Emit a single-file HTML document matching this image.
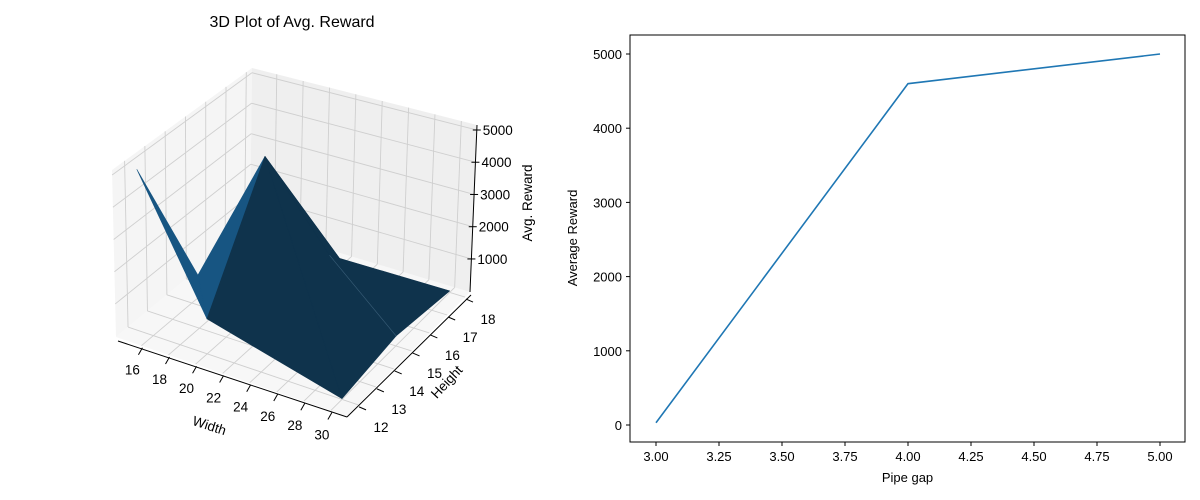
<!DOCTYPE html>
<html><head><meta charset="utf-8"><style>
body{margin:0;background:#fff;}
svg{display:block;font-family:"Liberation Sans","DejaVu Sans",sans-serif;}
</style></head><body>
<svg id="fig" width="1200" height="500" viewBox="0 0 1200 500" xmlns="http://www.w3.org/2000/svg">
<g id="g3d"></g>
<g id="g2d"></g>
</svg>
<script>
// ---------- 3D surface data ----------
const surfW = [15, 20, 15, 20, 20.7, 30, 30, 30];
const surfH = [12, 12, 15, 15, 18, 18, 15, 12];
const surfZ = [5000, 1050, 210, 4600, 0, 20, 280, 0];
const lightTris = [[0,1,2],[2,3,1]];
const darkTris = [[1,3,7],[3,6,7],[3,4,6],[4,5,6]];
const widthTicks = [16,18,20,22,24,26,28,30];
const heightTicks = [12,13,14,15,16,17,18];
const zTicks = [1000,2000,3000,4000,5000];
// ---------- 2D line data ----------
const gapX = [3, 4, 5];
const rewardY = [30, 4600, 5000];
const gapTicks = [3.00,3.25,3.50,3.75,4.00,4.25,4.50,4.75,5.00];
const rewardTicks = [0,1000,2000,3000,4000,5000];

const NS="http://www.w3.org/2000/svg";
function mk(parent,tag,attrs,name){const e=document.createElementNS(NS,tag);for(const k in attrs)e.setAttribute(k,attrs[k]);


parent.appendChild(e);return e;}

// ---- 3D projection (trilinear between measured box corners) ----
const W0=14.12,W1=31.19,H0=11.38,H1=18.28,Z0=-25,Z1=5155;
const C={p000:[116,337],p100:[347,416],p110:[470,292],p010:[250,226],
p001:[112,170],p101:[350,243],p111:[477,125],p011:[252,68]};
function lerp(a,b,t){return [a[0]+(b[0]-a[0])*t,a[1]+(b[1]-a[1])*t];}
function proj(w,h,z){const fw=(w-W0)/(W1-W0),fh=(h-H0)/(H1-H0),fz=(z-Z0)/(Z1-Z0);
const b=lerp(lerp(C.p000,C.p100,fw),lerp(C.p010,C.p110,fw),fh);
const t=lerp(lerp(C.p001,C.p101,fw),lerp(C.p011,C.p111,fw),fh);
return lerp(b,t,fz);}
function pts(arr){return arr.map(p=>p[0].toFixed(1)+','+p[1].toFixed(1)).join(' ');}
const g3=document.getElementById('g3d');
mk(g3,'polygon',{points:pts([proj(W0,H0,Z0),proj(W1,H0,Z0),proj(W1,H1,Z0),proj(W0,H1,Z0)]),fill:'#f7f7f7'},'floor-pane');
mk(g3,'polygon',{points:pts([proj(W0,H0,Z0),proj(W0,H1,Z0),proj(W0,H1,Z1),proj(W0,H0,Z1)]),fill:'#f5f5f5'},'left-pane');
mk(g3,'polygon',{points:pts([proj(W0,H1,Z0),proj(W1,H1,Z0),proj(W1,H1,Z1),proj(W0,H1,Z1)]),fill:'#efefef'},'back-pane');
const gs={stroke:'#cfcfcf','stroke-width':0.9,fill:'none'};
function gl(a,b,name){mk(g3,'line',Object.assign({x1:a[0],y1:a[1],x2:b[0],y2:b[1]},gs),name);}
widthTicks.forEach(w=>{gl(proj(w,H0,Z0),proj(w,H1,Z0),'floor-grid-width');gl(proj(w,H1,Z0),proj(w,H1,Z1),'back-grid-width');});
heightTicks.forEach(h=>{gl(proj(W0,h,Z0),proj(W1,h,Z0),'floor-grid-height');gl(proj(W0,h,Z0),proj(W0,h,Z1),'left-grid-height');});
zTicks.forEach(z=>{gl(proj(W0,H0,z),proj(W0,H1,z),'left-grid-z');gl(proj(W0,H1,z),proj(W1,H1,z),'back-grid-z');});
function tri(t,col,name){const p=t.map(i=>proj(surfW[i],surfH[i],surfZ[i]));
mk(g3,'polygon',{points:pts(p),fill:col,stroke:col,'stroke-width':0.6,'stroke-linejoin':'round'},name);}
lightTris.forEach(t=>tri(t,'#175582','surface-face-light'));
darkTris.forEach(t=>tri(t,'#0f334c','surface-face-dark'));
{const a=proj(surfW[4],surfH[4],surfZ[4]),b=proj(surfW[6],surfH[6],surfZ[6]);
mk(g3,'line',{x1:a[0],y1:a[1],x2:b[0],y2:b[1],stroke:'#3a5e78','stroke-width':0.6},'surface-edge');}
function al(a,b,name){mk(g3,'line',{x1:a[0],y1:a[1],x2:b[0],y2:b[1],stroke:'#000','stroke-width':1},name);}
{const a=proj(W0,H0,Z0),b=proj(W1,H0,Z0);al([a[0]+2,a[1]+4],[b[0],b[1]+1],'width-axis-line');}
{const a=proj(W1,H0,Z0),b=proj(W1,H1,Z0);al([a[0],a[1]+1],[b[0]+1,b[1]+3],'height-axis-line');}
{const a=proj(W1,H1,Z0),b=proj(W1,H1,Z1);al(a,b,'z-axis-line');}
function txt(parent,x,y,s,name,extra){const e=mk(parent,'text',Object.assign({x:x,y:y,'font-size':'13.5px',fill:'#000'},extra||{}),name);e.textContent=s;return e;}
widthTicks.forEach(w=>{const p=proj(w,H0,Z0);const q=[p[0]+1,p[1]+2];
al(q,[q[0]-4,q[1]+7],'width-tick');
txt(g3,q[0]-10,q[1]+27,String(w),'width-tick-label',{'text-anchor':'middle'});});
heightTicks.forEach(h=>{const p=proj(W1,h,Z0);const q=[p[0]+1,p[1]+2];
al(q,[q[0]+7,q[1]+3],'height-tick');
txt(g3,q[0]+22,q[1]+25,String(h),'height-tick-label',{'text-anchor':'middle'});});
zTicks.forEach(z=>{const p=proj(W1,H1,z);
al([p[0]-4,p[1]],[p[0]+4,p[1]],'z-tick');
txt(g3,p[0]+6,p[1]+5,String(z),'z-tick-label');});
txt(g3,208,430,'Width','width-axis-title',{'text-anchor':'middle',transform:'rotate(18 208 430)'});
txt(g3,450,385,'Height','height-axis-title',{'text-anchor':'middle',transform:'rotate(-47 450 385)'});
txt(g3,532,203,'Avg. Reward','z-axis-title',{'text-anchor':'middle',transform:'rotate(-90 532 203)'});
txt(g3,292,27,'3D Plot of Avg. Reward','plot-3d-title',{'text-anchor':'middle','font-size':'16px'});

// ---- 2D chart ----
const g2=document.getElementById('g2d');
const L=630,R=1185,T=35,B=442;
function xs(v){return 656+(v-3)*(1160-656)/2;}
function ys(v){return 425-v*(425-54)/5000;}
mk(g2,'rect',{x:L,y:T,width:R-L,height:B-T,fill:'#fff',stroke:'#000','stroke-width':1},'plot-area');
gapTicks.forEach(v=>{const x=xs(v);mk(g2,'line',{x1:x,y1:B,x2:x,y2:B+4,stroke:'#000'},'x-tick');
txt(g2,x,B+19,v.toFixed(2),'x-tick-label',{'text-anchor':'middle','font-size':'13px'});});
rewardTicks.forEach(v=>{const y=ys(v);mk(g2,'line',{x1:L-4,y1:y,x2:L,y2:y,stroke:'#000'},'y-tick');
txt(g2,L-8,y+5,String(v),'y-tick-label',{'text-anchor':'end','font-size':'13px'});});
mk(g2,'polyline',{points:gapX.map((v,i)=>xs(v)+','+ys(rewardY[i])).join(' '),fill:'none',stroke:'#1f77b4','stroke-width':1.6},'reward-line');
txt(g2,(L+R)/2,482,'Pipe gap','x-axis-title',{'text-anchor':'middle','font-size':'13px'});
txt(g2,577,238,'Average Reward','y-axis-title',{'text-anchor':'middle','font-size':'13px',transform:'rotate(-90 577 238)'});
</script>
</body></html>
